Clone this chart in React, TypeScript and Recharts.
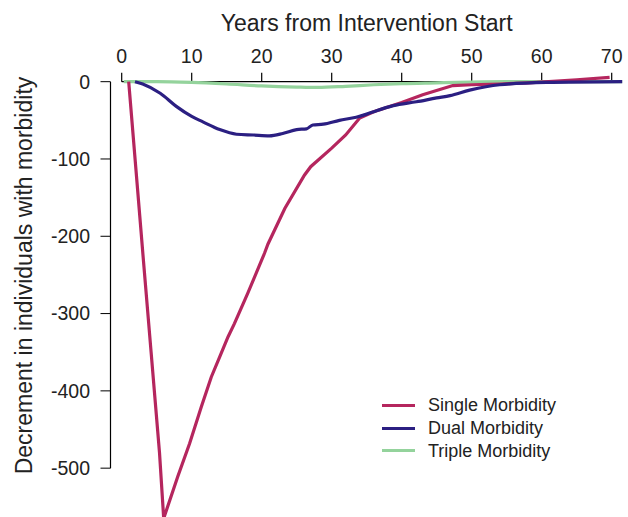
import React from 'react';
import { LineChart, Line, XAxis, YAxis, ReferenceLine, Legend } from 'recharts';

const FONT = '"Liberation Sans", Arial, Helvetica, sans-serif';

const xTicks = [0, 10, 20, 30, 40, 50, 60, 70];
const yTicks = [0, -100, -200, -300, -400, -500];

const seriesNames = ['Single Morbidity', 'Dual Morbidity', 'Triple Morbidity'];
const seriesColors = ['#B5265E', '#2B1F82', '#94D39C'];

const singleYears = [1, 3, 4.2, 5.4, 6, 8, 9.7, 11.4, 12.8, 14, 15.2, 16.1, 18, 20.4, 20.9, 23.3, 26.1, 27, 30, 32, 34, 36, 40, 43, 47.3, 50, 54, 58, 61, 65, 69.7];
const singleValues = [0, -220, -350, -480, -565, -511, -468, -420, -382, -356, -330, -313, -274, -222, -210, -164, -121, -110, -86, -69, -47, -39, -27, -17, -5, -4, -3, -1.5, 0, 2.5, 5.5];

const dualYears = [1.9, 3, 5.5, 7.8, 10, 11.6, 14, 16.4, 18.8, 21.1, 23, 25, 26.4, 27.3, 28.8, 31.1, 33.5, 35, 36.4, 38.8, 42.1, 45, 46.9, 49.7, 54, 60.7, 71.5];
const dualValues = [0, -3, -15, -32, -45, -52, -62, -68, -69, -70, -67, -62, -61, -56, -55, -50, -46, -42, -37.5, -31, -26, -21, -18, -11, -4, -1, 0];

const tripleYears = [0.3, 5, 10, 15, 20, 25, 28, 32, 36, 40, 45, 50, 55, 60, 71.5];
const tripleValues = [0, 0, -1, -3, -5.5, -7, -7.5, -6, -4, -2.5, -1.5, -0.5, 0, 0, 0];

const toPoints = (xs: number[], ys: number[]) => xs.map((x, i) => ({ year: x, value: ys[i] }));

const singleData = toPoints(singleYears, singleValues);
const dualData = toPoints(dualYears, dualValues);
const tripleData = toPoints(tripleYears, tripleValues);

const X_MIN = -1.6;
const X_MAX = 72;
const Y_MIN = -580;
const Y_MAX = 12;
const X_TICK_UP = 11.6;

const renderLegend = (props: any) => {
  const { payload } = props;
  const items = [...(payload || [])].sort(
    (a: any, b: any) => seriesNames.indexOf(a.value) - seriesNames.indexOf(b.value)
  );
  return (
    <div style={{ fontFamily: FONT, fontSize: 18, color: '#222' }}>
      {items.map((e: any) => (
        <div key={e.value} style={{ display: 'flex', alignItems: 'center', height: 22.8, lineHeight: '22.8px', whiteSpace: 'nowrap' }}>
          <div style={{ width: 33, height: 3, background: e.color, marginRight: 13 }} />
          <span>{e.value}</span>
        </div>
      ))}
    </div>
  );
};

export default function App() {
  return (
    <div style={{ position: 'absolute', left: 0, top: 0, width: 628, height: 517, overflow: 'hidden', background: '#fff' }}>
      <LineChart width={628} height={540} margin={{ top: 32.4, right: 2.3, bottom: 10, left: 50.5 }}>
        <XAxis
          type="number"
          dataKey="year"
          orientation="top"
          domain={[X_MIN, X_MAX]}
          ticks={xTicks}
          interval={0}
          allowDataOverflow
          height={40}
          tickSize={0}
          tickMargin={9.4}
          axisLine={false}
          tickLine={false}
          tick={{ fill: '#222', fontSize: 19.5, fontFamily: FONT }}
        />
        <YAxis
          type="number"
          domain={[Y_MIN, Y_MAX]}
          ticks={yTicks}
          interval={0}
          allowDataOverflow
          width={60}
          tickSize={10}
          tickMargin={10.5}
          axisLine={false}
          tickLine={{ stroke: '#000' }}
          tick={{ fill: '#222', fontSize: 19.5, fontFamily: FONT }}
        />
        <ReferenceLine segment={[{ x: 0, y: 0 }, { x: 70, y: 0 }]} stroke="#000" strokeWidth={1.2} />
        <ReferenceLine segment={[{ x: X_MIN, y: 0 }, { x: X_MIN, y: -500 }]} stroke="#000" strokeWidth={1.2} />
        {xTicks.map((t) => (
          <ReferenceLine key={t} segment={[{ x: t, y: 0 }, { x: t, y: X_TICK_UP }]} stroke="#000" strokeWidth={1.2} />
        ))}
        <Line data={tripleData} dataKey="value" name={seriesNames[2]} type="monotone" stroke={seriesColors[2]} strokeWidth={3.2} dot={false} isAnimationActive={false} />
        <Line data={singleData} dataKey="value" name={seriesNames[0]} type="linear" stroke={seriesColors[0]} strokeWidth={3.2} dot={false} isAnimationActive={false} />
        <Line data={dualData} dataKey="value" name={seriesNames[1]} type="monotone" stroke={seriesColors[1]} strokeWidth={3.2} dot={false} isAnimationActive={false} />
        <Legend
          layout="vertical"
          align="center"
          verticalAlign="middle"
          content={renderLegend}
          wrapperStyle={{ left: 382, top: 394, width: 'auto', height: 'auto' }}
        />
      </LineChart>
      <div
        style={{
          position: 'absolute',
          left: 366.7,
          top: 12.2,
          transform: 'translateX(-50%)',
          fontFamily: FONT,
          fontSize: 23,
          lineHeight: '23px',
          color: '#222',
          whiteSpace: 'nowrap',
        }}
      >
        Years from Intervention Start
      </div>
      <div
        style={{
          position: 'absolute',
          left: 23.7 - 250,
          top: 275 - 11.5,
          width: 500,
          height: 23,
          transform: 'rotate(-90deg)',
          transformOrigin: '50% 50%',
          textAlign: 'center',
          fontFamily: FONT,
          fontSize: 23,
          lineHeight: '23px',
          color: '#222',
          whiteSpace: 'nowrap',
        }}
      >
        Decrement in individuals with morbidity
      </div>
    </div>
  );
}
